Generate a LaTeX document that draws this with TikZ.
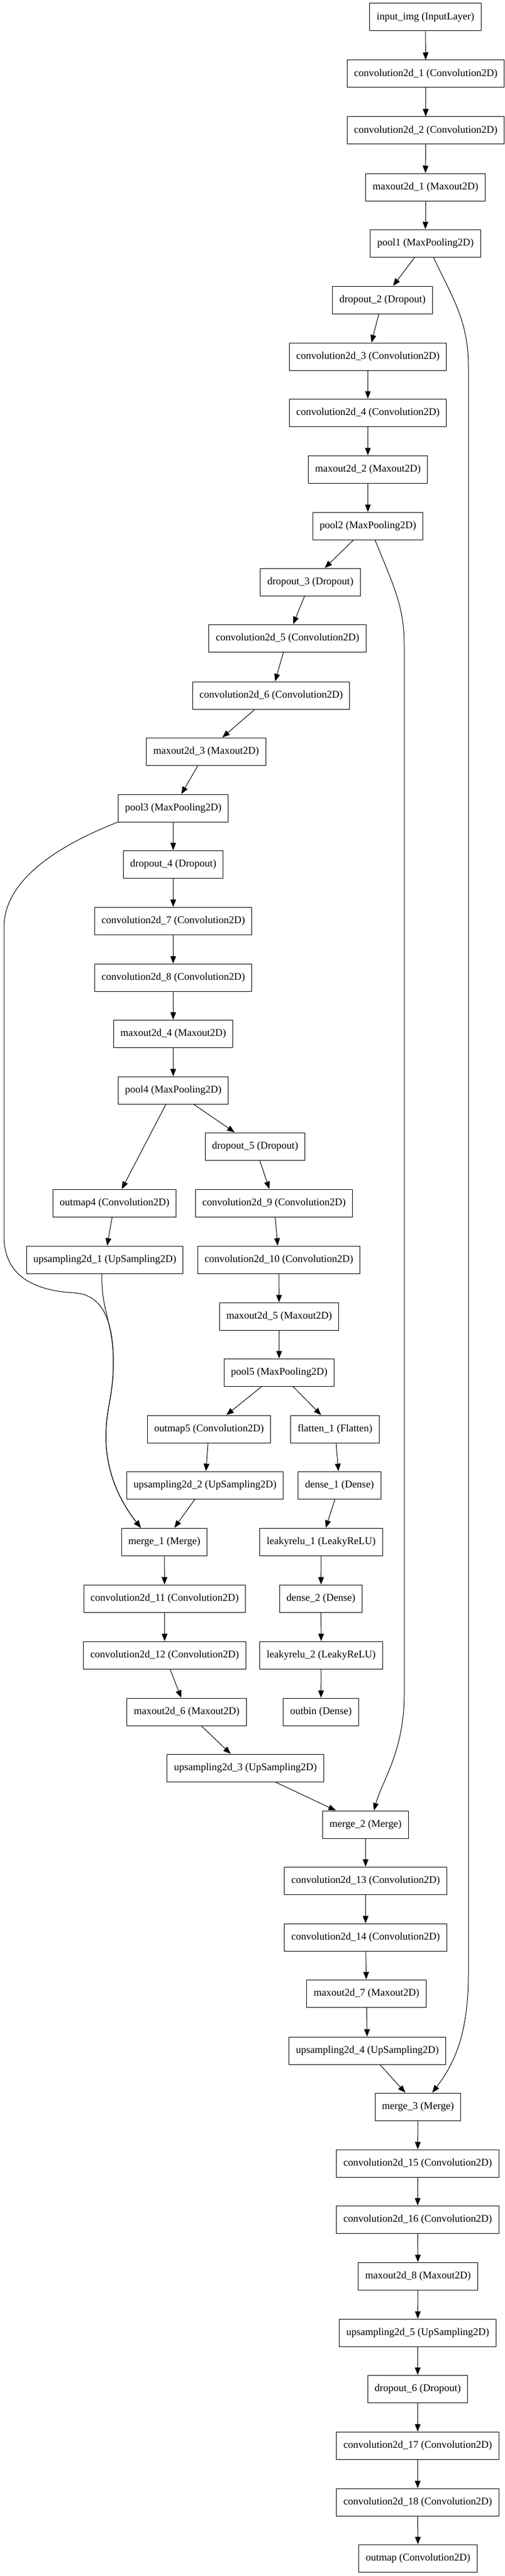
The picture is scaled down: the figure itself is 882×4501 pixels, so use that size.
\documentclass[tikz,border=0pt]{standalone}
\usepackage{fontspec}
\setmainfont{Liberation Serif}
\usetikzlibrary{arrows.meta}

\begin{document}
\begin{tikzpicture}[
		x=1pt,y=-1pt,
		line width=1pt,
		>={Triangle[length=13pt,width=10pt]},
		,
		layer/.style={rectangle,draw,line width=1pt,minimum height=48pt,inner xsep=12pt,inner ysep=0pt,font=\fontsize{18}{21}\selectfont}
		]
		\useasboundingbox (0,0) rectangle (882,4501);
		\node[layer](inp) at (743,30){input\_img (InputLayer)};
		\node[layer](c1) at (743.5,129){convolution2d\_1 (Convolution2D)};
		\node[layer](c2) at (743.5,228){convolution2d\_2 (Convolution2D)};
		\node[layer](mx1) at (743,327){maxout2d\_1 (Maxout2D)};
		\node[layer](p1) at (743,425){pool1 (MaxPooling2D)};
		\node[layer](d2) at (668,524){dropout\_2 (Dropout)};
		\node[layer](c3) at (642.5,623){convolution2d\_3 (Convolution2D)};
		\node[layer](c4) at (642.5,721){convolution2d\_4 (Convolution2D)};
		\node[layer](mx2) at (642.5,820){maxout2d\_2 (Maxout2D)};
		\node[layer](p2) at (642.5,919){pool2 (MaxPooling2D)};
		\node[layer](d3) at (542,1017){dropout\_3 (Dropout)};
		\node[layer](c5) at (502,1115){convolution2d\_5 (Convolution2D)};
		\node[layer](c6) at (473.5,1215){convolution2d\_6 (Convolution2D)};
		\node[layer](mx3) at (360,1313){maxout2d\_3 (Maxout2D)};
		\node[layer](p3) at (302.5,1412){pool3 (MaxPooling2D)};
		\node[layer](d4) at (302.5,1510){dropout\_4 (Dropout)};
		\node[layer](c7) at (302.5,1609){convolution2d\_7 (Convolution2D)};
		\node[layer](c8) at (302.5,1708){convolution2d\_8 (Convolution2D)};
		\node[layer](mx4) at (302.5,1806){maxout2d\_4 (Maxout2D)};
		\node[layer](p4) at (302.5,1905){pool4 (MaxPooling2D)};
		\node[layer](d5) at (445.5,2003){dropout\_5 (Dropout)};
		\node[layer](om4) at (200,2102){outmap4 (Convolution2D)};
		\node[layer](c9) at (478.5,2102){convolution2d\_9 (Convolution2D)};
		\node[layer](up1) at (183,2201){upsampling2d\_1 (UpSampling2D)};
		\node[layer](c10) at (487,2201){convolution2d\_10 (Convolution2D)};
		\node[layer](mx5) at (487.5,2300){maxout2d\_5 (Maxout2D)};
		\node[layer](p5) at (487.5,2398){pool5 (MaxPooling2D)};
		\node[layer](om5) at (365,2497){outmap5 (Convolution2D)};
		\node[layer](fl) at (585,2497){flatten\_1 (Flatten)};
		\node[layer](up2) at (358,2595){upsampling2d\_2 (UpSampling2D)};
		\node[layer](de1) at (593,2595){dense\_1 (Dense)};
		\node[layer](m1) at (287,2694){merge\_1 (Merge)};
		\node[layer](lr1) at (561,2694){leakyrelu\_1 (LeakyReLU)};
		\node[layer](c11) at (287.5,2793){convolution2d\_11 (Convolution2D)};
		\node[layer](de2) at (560.5,2793){dense\_2 (Dense)};
		\node[layer](c12) at (287.5,2892){convolution2d\_12 (Convolution2D)};
		\node[layer](lr2) at (561,2892){leakyrelu\_2 (LeakyReLU)};
		\node[layer](mx6) at (326,2991){maxout2d\_6 (Maxout2D)};
		\node[layer](ob) at (560.5,2991){outbin (Dense)};
		\node[layer](up3) at (428.5,3089){upsampling2d\_3 (UpSampling2D)};
		\node[layer](m2) at (638.5,3188){merge\_2 (Merge)};
		\node[layer](c13) at (638.5,3286){convolution2d\_13 (Convolution2D)};
		\node[layer](c14) at (638.5,3385){convolution2d\_14 (Convolution2D)};
		\node[layer](mx7) at (640,3483){maxout2d\_7 (Maxout2D)};
		\node[layer](up4) at (641.5,3583){upsampling2d\_4 (UpSampling2D)};
		\node[layer](m3) at (730,3681){merge\_3 (Merge)};
		\node[layer](c15) at (729.5,3780){convolution2d\_15 (Convolution2D)};
		\node[layer](c16) at (729.5,3878){convolution2d\_16 (Convolution2D)};
		\node[layer](mx8) at (730,3977){maxout2d\_8 (Maxout2D)};
		\node[layer](up5) at (729.5,4076){upsampling2d\_5 (UpSampling2D)};
		\node[layer](d6) at (729.5,4174){dropout\_6 (Dropout)};
		\node[layer](c17) at (729.5,4273){convolution2d\_17 (Convolution2D)};
		\node[layer](c18) at (729.5,4372){convolution2d\_18 (Convolution2D)};
		\node[layer](om) at (730,4470){outmap (Convolution2D)};
		\path[->]
		(inp) edge (c1)
		(c1) edge (c2)
		(c2) edge (mx1)
		(mx1) edge (p1)
		(p1) edge (d2)
		(d2) edge (c3)
		(c3) edge (c4)
		(c4) edge (mx2)
		(mx2) edge (p2)
		(p2) edge (d3)
		(d3) edge (c5)
		(c5) edge (c6)
		(c6) edge (mx3)
		(mx3) edge (p3)
		(p3) edge (d4)
		(d4) edge (c7)
		(c7) edge (c8)
		(c8) edge (mx4)
		(mx4) edge (p4)
		(p4) edge (d5)
		(p4) edge (om4)
		(d5) edge (c9)
		(om4) edge (up1)
		(c9) edge (c10)
		(c10) edge (mx5)
		(mx5) edge (p5)
		(p5) edge (om5)
		(p5) edge (fl)
		(om5) edge (up2)
		(fl) edge (de1)
		(up2) edge (m1)
		(de1) edge (lr1)
		(m1) edge (c11)
		(lr1) edge (de2)
		(c11) edge (c12)
		(de2) edge (lr2)
		(c12) edge (mx6)
		(lr2) edge (ob)
		(mx6) edge (up3)
		(up3) edge (m2)
		(m2) edge (c13)
		(c13) edge (c14)
		(c14) edge (mx7)
		(mx7) edge (up4)
		(up4) edge (m3)
		(m3) edge (c15)
		(c15) edge (c16)
		(c16) edge (mx8)
		(mx8) edge (up5)
		(up5) edge (d6)
		(d6) edge (c17)
		(c17) edge (c18)
		(c18) edge (om)
		;
		
		\path[->,draw] ([xshift=14pt]p1.south) .. controls (790,520) and (818,560) .. (818,640) -- (818,3450) .. controls (818,3560) and (790,3610) .. ([xshift=25pt]m3.north);
		\path[->,draw] ([xshift=12.5pt]p2.south) .. controls (690,1030) and (706,1060) .. (706,1130) -- (706,2960) .. controls (706,3060) and (668,3110) .. ([xshift=14.5pt]m2.north);
		\path[->,draw] (p3.south west) .. controls (120,1470) and (7,1530) .. (7,1620) -- (7,2160) .. controls (7,2230) and (60,2255) .. (130,2259) .. controls (175,2262) and (198,2300) .. (198,2380) .. controls (198,2440) and (185,2460) .. (185,2510) .. controls (185,2580) and (215,2630) .. ([xshift=-41pt]m1.north);
		\path[->,draw] ([xshift=-5pt]up1.south) .. controls (176,2290) and (198,2310) .. (198,2380) .. controls (198,2440) and (185,2460) .. (185,2510) .. controls (185,2580) and (215,2630) .. ([xshift=-41pt]m1.north);
		
		\end{tikzpicture}
\end{document}
